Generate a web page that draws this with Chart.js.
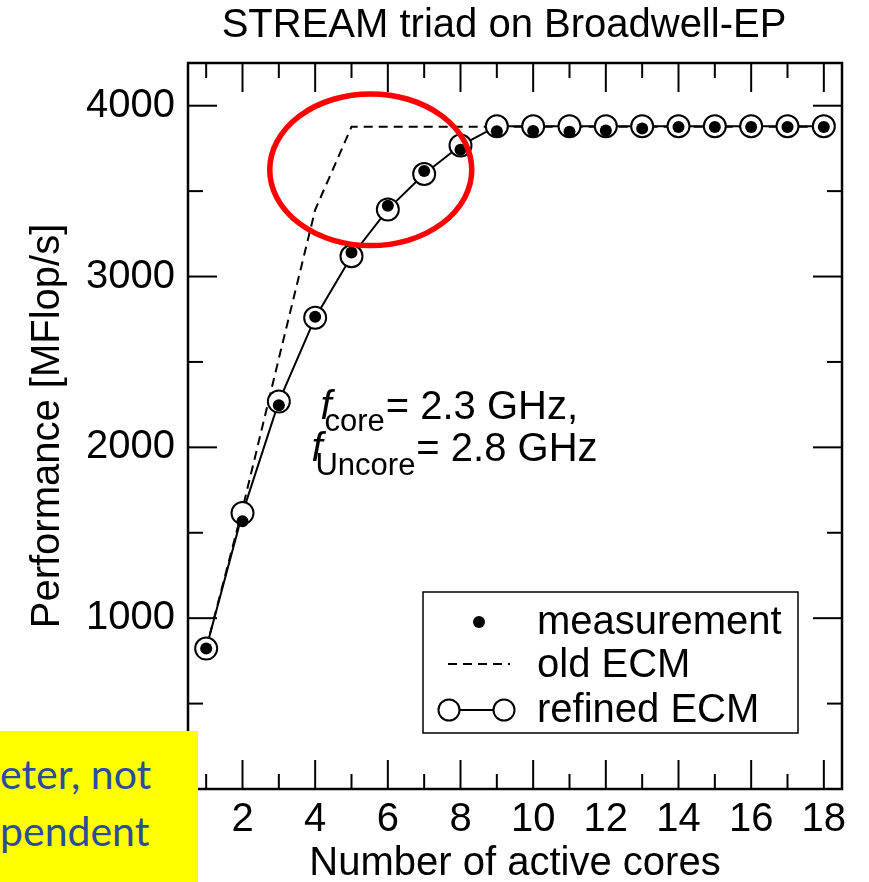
<!DOCTYPE html>
<html><head><meta charset="utf-8">
<script src="https://cdn.jsdelivr.net/npm/chart.js@4.4.1/dist/chart.umd.min.js"></script>
<style>
html,body{margin:0;padding:0;background:#fff;}
#wrap{position:relative;width:869px;height:882px;overflow:hidden;}
canvas{display:block;}
#note{position:absolute;left:0;top:731px;width:198px;height:151px;background:#ffff00;overflow:hidden;
 font-family:Lato,"Open Sans",sans-serif;color:#2b4c9b;font-size:41px;}
#note span{position:absolute;left:0;white-space:nowrap;line-height:1;}
</style></head><body>
<div id="wrap">
<canvas id="c" width="869" height="882"></canvas>
<div id="note"><span style="top:22px">eter, not</span><span style="top:79px">pendent</span></div>
</div>
<script>
// ---- data ----
const cores = [1,2,3,4,5,6,7,8,9,10,11,12,13,14,15,16,17,18];
const measurement = [822,1567,2247,2764,3140,3415,3618,3742,3851,3852,3848,3855,3866,3876,3876,3876,3876,3876];
const oldECM      = [822,1640,2520,3390,3877,3877,3877,3877,3877,3877,3877,3877,3877,3877,3877,3877,3877,3877];
const refinedECM  = [822,1615,2268,2759,3119,3393,3600,3767,3880,3880,3880,3880,3880,3880,3880,3880,3880,3880];
const xTickLabels = [2,4,6,8,10,12,14,16,18];
const xMinorTicks = [1,3,5,7,9,11,13,15,17];
const yTickLabels = [0,1000,2000,3000,4000];
const yMinorTicks = [500,1500,2500,3500];
const seriesNames = ['measurement','old ECM','refined ECM'];
const chartTitle = 'STREAM triad on Broadwell-EP';
const xTitle = 'Number of active cores';
const yTitle = 'Performance [MFlop/s]';
const noteLine1 = ['core','= 2.3 GHz,'];
const noteLine2 = ['Uncore','= 2.8 GHz'];
// highlighted region (data units): center x, center y, half-width, half-height
const highlight = {x:5.53, y:3625, rx:2.78, ry:444};

const FONT = '"Liberation Sans", Arial, Helvetica, sans-serif';

const pts = arr => cores.map((c,i)=>({x:c,y:arr[i]}));

const decor = {
  id:'decor',
  beforeDatasetsDraw(chart){
    const {ctx, chartArea:a, scales:{x,y}} = chart;
    ctx.save();
    ctx.strokeStyle='#000'; ctx.lineWidth=2; ctx.lineCap='butt';
    const seg=(x1,y1,x2,y2)=>{ctx.beginPath();ctx.moveTo(x1,y1);ctx.lineTo(x2,y2);ctx.stroke();};
    xTickLabels.forEach(v=>{const p=x.getPixelForValue(v); seg(p,a.bottom,p,a.bottom-29); seg(p,a.top,p,a.top+29);});
    xMinorTicks.forEach(v=>{const p=x.getPixelForValue(v); seg(p,a.bottom,p,a.bottom-15); seg(p,a.top,p,a.top+15);});
    yTickLabels.forEach(v=>{const p=y.getPixelForValue(v); seg(a.left,p,a.left+29,p); seg(a.right,p,a.right-29,p);});
    yMinorTicks.forEach(v=>{const p=y.getPixelForValue(v); seg(a.left,p,a.left+15,p); seg(a.right,p,a.right-15,p);});
    ctx.lineWidth=2.5;
    ctx.strokeRect(a.left,a.top,a.width,a.height);
    ctx.restore();
  },
  afterDraw(chart){
    const {ctx, chartArea:a, scales:{x,y}} = chart;
    ctx.save();
    // title
    ctx.fillStyle='#000';
    ctx.font='40px '+FONT;
    ctx.textAlign='center'; ctx.textBaseline='alphabetic';
    ctx.fillText(chartTitle, a.left+316, 37);

    // annotation text
    ctx.textAlign='left';
    const drawF=(fx,by,sub,rest,subDy)=>{
      ctx.font='italic 40px '+FONT;
      ctx.fillText('f', fx, by);
      ctx.font='31px '+FONT;
      const sx=fx+4;
      ctx.fillText(sub, sx, by+subDy);
      const w=ctx.measureText(sub).width;
      ctx.font='40px '+FONT;
      ctx.fillText(rest, sx+w+1, by);
    };
    const ax=x.getPixelForValue(4.2), ay=y.getPixelForValue(2165);
    drawF(ax-2, ay, noteLine1[0], noteLine1[1], 12);
    drawF(ax-11, ay+42, noteLine2[0], noteLine2[1], 14);

    // legend
    const lx=a.left+235, ly=a.top+529;
    ctx.lineWidth=1.5; ctx.strokeStyle='#000';
    ctx.fillStyle='#fff';
    ctx.fillRect(lx,ly,375,141);
    ctx.strokeRect(lx,ly,375,141);
    ctx.fillStyle='#000';
    ctx.beginPath(); ctx.arc(lx+56,ly+30,6,0,Math.PI*2); ctx.fill();
    ctx.lineWidth=2;
    ctx.setLineDash([9,6]);
    ctx.beginPath(); ctx.moveTo(lx+25,ly+72); ctx.lineTo(lx+87,ly+72); ctx.stroke();
    ctx.setLineDash([]);
    ctx.beginPath(); ctx.moveTo(lx+26,ly+118); ctx.lineTo(lx+81,ly+118); ctx.stroke();
    [26,81].forEach(o=>{ctx.beginPath(); ctx.arc(lx+o,ly+118,10.5,0,Math.PI*2); ctx.fillStyle='#fff'; ctx.fill(); ctx.stroke();});
    ctx.fillStyle='#000';
    ctx.font='40px '+FONT;
    ctx.fillText(seriesNames[0], lx+114, ly+42);
    ctx.fillText(seriesNames[1], lx+114, ly+85);
    ctx.fillText(seriesNames[2], lx+114, ly+130);

    // red highlight ellipse
    const cx=x.getPixelForValue(highlight.x), cy=y.getPixelForValue(highlight.y);
    const rx=x.getPixelForValue(highlight.x+highlight.rx)-cx;
    const ry=cy-y.getPixelForValue(highlight.y+highlight.ry);
    ctx.strokeStyle='#ff0000'; ctx.lineWidth=5.5;
    ctx.beginPath(); ctx.ellipse(cx,cy,rx,ry,0,0,Math.PI*2); ctx.stroke();
    ctx.restore();
  }
};

new Chart(document.getElementById('c'), {
  type:'line',
  data:{datasets:[
    {label:seriesNames[0], data:pts(measurement), showLine:false, pointRadius:6, pointBackgroundColor:'#000', pointBorderWidth:0, borderColor:'#000'},
    {label:seriesNames[2], data:pts(refinedECM), borderColor:'#000', borderWidth:2, pointRadius:11, pointBorderWidth:2, pointBackgroundColor:'#fff', pointBorderColor:'#000', tension:0},
    {label:seriesNames[1], data:pts(oldECM), borderColor:'#000', borderWidth:2, borderDash:[9,6], pointRadius:0, tension:0}
  ]},
  options:{
    responsive:false, animation:false, events:[], devicePixelRatio:1,
    layout:{padding:{top:63,right:27,left:0,bottom:0}},
    plugins:{legend:{display:false}, title:{display:false}, tooltip:{enabled:false}},
    scales:{
      x:{type:'linear', min:0.5, max:18.5, position:'bottom',
        grid:{display:false, drawTicks:false}, border:{display:false},
        afterBuildTicks:s=>{s.ticks=xTickLabels.map(v=>({value:v}));},
        afterFit:s=>{s.height=93;},
        ticks:{font:{size:40,family:FONT}, color:'#000', padding:7, maxRotation:0, autoSkip:false, callback:v=>String(v)},
        title:{display:true, text:xTitle, color:'#000', font:{size:40,family:FONT,lineHeight:1}, padding:{top:0,bottom:-2}}
      },
      y:{type:'linear', min:0, max:4250,
        grid:{display:false, drawTicks:false}, border:{display:false},
        afterBuildTicks:s=>{s.ticks=yTickLabels.map(v=>({value:v}));},
        afterFit:s=>{s.width=188;},
        ticks:{font:{size:40,family:FONT}, color:'#000', padding:13, callback:v=>String(v)},
        title:{display:true, text:yTitle, color:'#000', font:{size:40,family:FONT,lineHeight:1.2}, padding:{top:24,bottom:0}}
      }
    }
  },
  plugins:[decor]
});
</script>
</body></html>
